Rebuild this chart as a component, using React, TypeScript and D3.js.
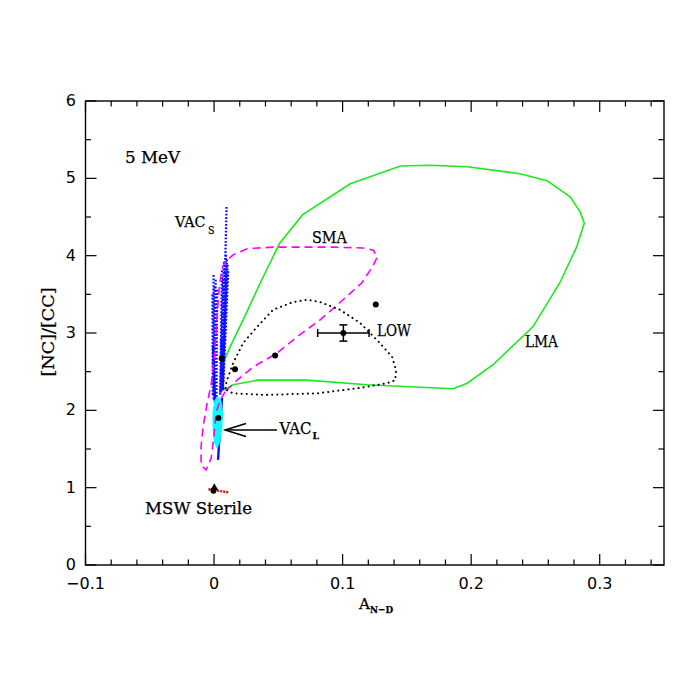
import React from "react";
import * as d3 from "d3";

const W = 692;
const H = 692;

const xMajorTicks = [-0.1, 0, 0.1, 0.2, 0.3];
const xTickLabels = ["\u22120.1", "0", "0.1", "0.2", "0.3"];
const yMajorTicks = [0, 1, 2, 3, 4, 5, 6];
const yTickLabels = ["0", "1", "2", "3", "4", "5", "6"];

// LMA allowed region (green, solid)
const lmaContour: [number, number][] = [
  [0.0086, 2.27], [0.0148, 2.33], [0.034, 2.39], [0.072, 2.39], [0.119, 2.33],
  [0.186, 2.28], [0.197, 2.35], [0.217, 2.59], [0.248, 3.08], [0.269, 3.65],
  [0.282, 4.11], [0.288, 4.42], [0.285, 4.56], [0.277, 4.76], [0.259, 4.97],
  [0.238, 5.06], [0.197, 5.15], [0.168, 5.17], [0.145, 5.16], [0.106, 4.93],
  [0.069, 4.53], [0.051, 4.16], [0.036, 3.65], [0.0226, 3.17], [0.0125, 2.82],
  [0.007, 2.61], [0.007, 2.29],
];

// SMA allowed region (magenta, dashed)
const smaContour: [number, number][] = [
  [0.0086, 2.24], [0.0047, 2.13], [0.0016, 1.97], [-0.0004, 1.62], [-0.0023, 1.38],
  [-0.0062, 1.23], [-0.0101, 1.29], [-0.0101, 1.53], [-0.0086, 1.78], [-0.0054, 2.09],
  [-0.0023, 2.33], [0.0, 2.65], [0.0016, 3.0], [0.0027, 3.3], [0.0039, 3.56],
  [0.0054, 3.75], [0.007, 3.87], [0.0101, 3.94], [0.0148, 4.01], [0.0257, 4.09],
  [0.0459, 4.11], [0.0926, 4.11], [0.116, 4.1], [0.124, 4.07], [0.127, 3.98],
  [0.123, 3.85], [0.115, 3.65], [0.1004, 3.43], [0.0825, 3.17], [0.0646, 2.95],
  [0.049, 2.74], [0.0304, 2.56], [0.0179, 2.39],
];

// LOW allowed region (black, dotted)
const lowContour: [number, number][] = [
  [0.0101, 2.26], [0.0148, 2.22], [0.0412, 2.2], [0.08, 2.22], [0.1136, 2.29],
  [0.1346, 2.35], [0.1409, 2.39], [0.1416, 2.52], [0.1385, 2.69], [0.129, 2.87],
  [0.1136, 3.13], [0.098, 3.3], [0.0825, 3.4], [0.0724, 3.43], [0.0615, 3.4],
  [0.0459, 3.3], [0.0335, 3.08], [0.0226, 2.87], [0.0148, 2.61], [0.0101, 2.39],
  [0.0086, 2.3],
];

// VAC regions (blue): dotted strands [x1, y1, x2, y2]
const vacDotted: [number, number, number, number][] = [
  [-0.0012, 3.5, -0.001, 2.2],
  [-0.0004, 3.75, -0.0004, 2.13],
  [0.0004, 3.6, 0.0004, 2.13],
  [0.0012, 3.69, 0.0008, 2.13],
  [0.0023, 3.56, 0.0019, 2.16],
  [0.0062, 3.81, 0.0047, 2.2],
  [0.007, 3.7, 0.005, 2.2],
  [0.0078, 3.92, 0.0054, 2.24],
  [0.0085, 3.8, 0.0058, 2.25],
  [0.0093, 4.01, 0.0062, 2.26],
  [0.01, 3.95, 0.0066, 2.3],
  [0.0105, 3.88, 0.007, 2.33],
  [0.011, 3.8, 0.0072, 2.35],
  [0.0097, 4.63, 0.0066, 2.39],
];
const vacSolid: [number, number, number, number][] = [
  [-0.0008, 2.84, 0.0008, 2.09],
  [0.0058, 2.91, 0.007, 2.26],
  [0.0062, 2.16, 0.0031, 1.36],
];

// VAC_L filled region (cyan)
const vacLRegion: [number, number][] = [
  [0.0027, 2.18], [0.0054, 2.11], [0.0066, 1.94], [0.0058, 1.75], [0.0043, 1.59],
  [0.0023, 1.51], [0.0004, 1.59], [-0.0008, 1.77], [-0.0008, 1.98], [0.0008, 2.13],
];

// best-fit points
const bestFitPoints: [number, number][] = [
  [0.006, 2.67], [0.0163, 2.53], [0.0475, 2.71], [0.1258, 3.37],
  [0.0034, 1.9], [-0.0005, 0.96],
];

// measured point with errors
const measX = 0.1006;
const measY = 3.0;
const measXErr = 0.02;
const measYErr = 0.105;

// sterile
const sterileTriangle: [number, number] = [0.0002, 1.005];
const sterileRedLine: [number, number][] = [[-0.0044, 0.98], [0.011, 0.94]];

const X0 = 85.5, X1 = 664, Y0 = 565, Y1 = 101;

export default function App() {
  const x = d3.scaleLinear().domain([-0.1, 0.35]).range([X0, X1]);
  const y = d3.scaleLinear().domain([0, 6]).range([Y0, Y1]);

  const closed = d3
    .line<[number, number]>()
    .x((d) => x(d[0]))
    .y((d) => y(d[1]))
    .curve(d3.curveLinearClosed);
  const open = d3
    .line<[number, number]>()
    .x((d) => x(d[0]))
    .y((d) => y(d[1]));

  const xMinor = d3.range(-0.1, 0.3501, 0.02).map((v) => +v.toFixed(3));
  const yMinor = d3.range(0, 6.001, 0.5);

  const majLen = 11;
  const minLen = 5.5;

  const serif = "'DejaVu Serif', serif";
  const sans = "'DejaVu Sans', sans-serif";

  const tri = sterileTriangle;
  const tx = x(tri[0]);
  const ty = y(tri[1]);

  return (
    <svg
      width={W}
      height={H}
      viewBox={`0 0 ${W} ${H}`}
      style={{ position: "absolute", left: 0, top: 0, background: "#fff" }}
    >
      <rect x={0} y={0} width={W} height={H} fill="#fff" />
      {/* ticks */}
      <g stroke="#000" strokeWidth={1.2}>
        {xMinor.map((v, i) => {
          const major = xMajorTicks.some((m) => Math.abs(m - v) < 1e-6);
          const l = major ? majLen : minLen;
          return (
            <g key={"xm" + i}>
              <line x1={x(v)} x2={x(v)} y1={Y0} y2={Y0 - l} />
              <line x1={x(v)} x2={x(v)} y1={Y1} y2={Y1 + l} />
            </g>
          );
        })}
        {yMinor.map((v, i) => {
          const major = Math.abs(v - Math.round(v)) < 1e-6;
          const l = major ? majLen : minLen;
          return (
            <g key={"ym" + i}>
              <line x1={X0} x2={X0 + l} y1={y(v)} y2={y(v)} />
              <line x1={X1} x2={X1 - l} y1={y(v)} y2={y(v)} />
            </g>
          );
        })}
      </g>

      {/* LMA */}
      <path d={closed(lmaContour) || ""} fill="none" stroke="#1ee81e" strokeWidth={1.6} />

      {/* VAC blue strands */}
      <g stroke="#1010ff" fill="none">
        {vacDotted.map((s, i) => (
          <line
            key={"vd" + i}
            x1={x(s[0])}
            y1={y(s[1])}
            x2={x(s[2])}
            y2={y(s[3])}
            strokeWidth={2.3}
            strokeDasharray="1.8,1.6"
          />
        ))}
        {vacSolid.map((s, i) => (
          <line
            key={"vs" + i}
            x1={x(s[0])}
            y1={y(s[1])}
            x2={x(s[2])}
            y2={y(s[3])}
            strokeWidth={2.4}
          />
        ))}
      </g>

      {/* VAC_L cyan */}
      <path d={closed(vacLRegion) || ""} fill="#00ffff" stroke="#00ffff" strokeWidth={1} />

      {/* SMA */}
      <path
        d={closed(smaContour) || ""}
        fill="none"
        stroke="#ff00ff"
        strokeWidth={1.6}
        strokeDasharray="8,5"
      />

      {/* LOW */}
      <path
        d={closed(lowContour) || ""}
        fill="none"
        stroke="#000"
        strokeWidth={2}
        strokeLinecap="round"
        strokeDasharray="0.1,5"
      />

      {/* sterile red */}
      <path
        d={open(sterileRedLine) || ""}
        fill="none"
        stroke="#ff0000"
        strokeWidth={2.4}
        strokeDasharray="2,1"
      />
      <path d={`M${tx},${ty - 4} L${tx + 4},${ty + 3} L${tx - 4},${ty + 3} Z`} fill="#000" />

      {/* best-fit points */}
      {bestFitPoints.map((p, i) => (
        <circle key={"p" + i} cx={x(p[0])} cy={y(p[1])} r={3} fill="#000" />
      ))}

      {/* measured point */}
      <g stroke="#000" strokeWidth={1.5}>
        <line x1={x(measX - measXErr)} x2={x(measX + measXErr)} y1={y(measY)} y2={y(measY)} />
        <line x1={x(measX - measXErr)} x2={x(measX - measXErr)} y1={y(measY) - 4} y2={y(measY) + 4} />
        <line x1={x(measX + measXErr)} x2={x(measX + measXErr)} y1={y(measY) - 4} y2={y(measY) + 4} />
        <line x1={x(measX)} x2={x(measX)} y1={y(measY - measYErr)} y2={y(measY + measYErr)} />
        <line x1={x(measX) - 4} x2={x(measX) + 4} y1={y(measY - measYErr)} y2={y(measY - measYErr)} />
        <line x1={x(measX) - 4} x2={x(measX) + 4} y1={y(measY + measYErr)} y2={y(measY + measYErr)} />
      </g>
      <circle cx={x(measX)} cy={y(measY)} r={3} fill="#000" />

      {/* VAC_L arrow */}
      <g stroke="#000" strokeWidth={1.5} fill="none">
        <line x1={225} y1={430} x2={277} y2={430} />
        <polyline points="246,423.5 225,430 246,436.5" />
      </g>

      {/* frame */}
      <rect x={X0} y={Y1} width={X1 - X0} height={Y0 - Y1} fill="none" stroke="#000" strokeWidth={1.4} />

      {/* tick labels */}
      <g fontFamily={sans} fontSize={16} fill="#000">
        {xMajorTicks.map((v, i) => (
          <text key={"xl" + i} x={x(v)} y={589} textAnchor="middle">
            {xTickLabels[i]}
          </text>
        ))}
        {yMajorTicks.map((v, i) => (
          <text key={"yl" + i} x={76} y={y(v) + 5} textAnchor="end">
            {yTickLabels[i]}
          </text>
        ))}
      </g>

      {/* axis labels */}
      <g fontFamily={serif} fill="#000" stroke="#000" strokeWidth={0.25}>
        <text x={359} y={609} fontSize={14}>
          <tspan textLength={11} lengthAdjust="spacingAndGlyphs">A</tspan>
          <tspan x={370} y={613} fontSize={10} fontWeight="bold" textLength={23} lengthAdjust="spacingAndGlyphs">N−D</tspan>
        </text>
        <text
          transform="translate(54,332) rotate(-90)"
          textAnchor="middle"
          fontSize={16}
          textLength={89}
          lengthAdjust="spacingAndGlyphs"
        >
          [NC]/[CC]
        </text>
      </g>

      {/* annotations */}
      <g fontFamily={serif} fontSize={16} fill="#000" stroke="#000" strokeWidth={0.25}>
        <text x={125} y={163} textLength={55} lengthAdjust="spacingAndGlyphs">5 MeV</text>
        <text x={175} y={227} fontSize={14.5} textLength={30.5} lengthAdjust="spacingAndGlyphs">VAC</text>
        <text x={208} y={234} fontSize={11} textLength={6.5} lengthAdjust="spacingAndGlyphs">S</text>
        <text x={312} y={242.5} textLength={35} lengthAdjust="spacingAndGlyphs">SMA</text>
        <text x={377} y={335.5} textLength={34} lengthAdjust="spacingAndGlyphs">LOW</text>
        <text x={525} y={347} textLength={33} lengthAdjust="spacingAndGlyphs">LMA</text>
        <text x={279.5} y={434}>
          <tspan textLength={32} lengthAdjust="spacingAndGlyphs">VAC</tspan>
          <tspan x={312.5} y={439} fontSize={10} fontWeight="bold" textLength={6.5} lengthAdjust="spacingAndGlyphs">L</tspan>
        </text>
        <text x={145} y={514} textLength={107} lengthAdjust="spacingAndGlyphs">MSW Sterile</text>
      </g>
    </svg>
  );
}
